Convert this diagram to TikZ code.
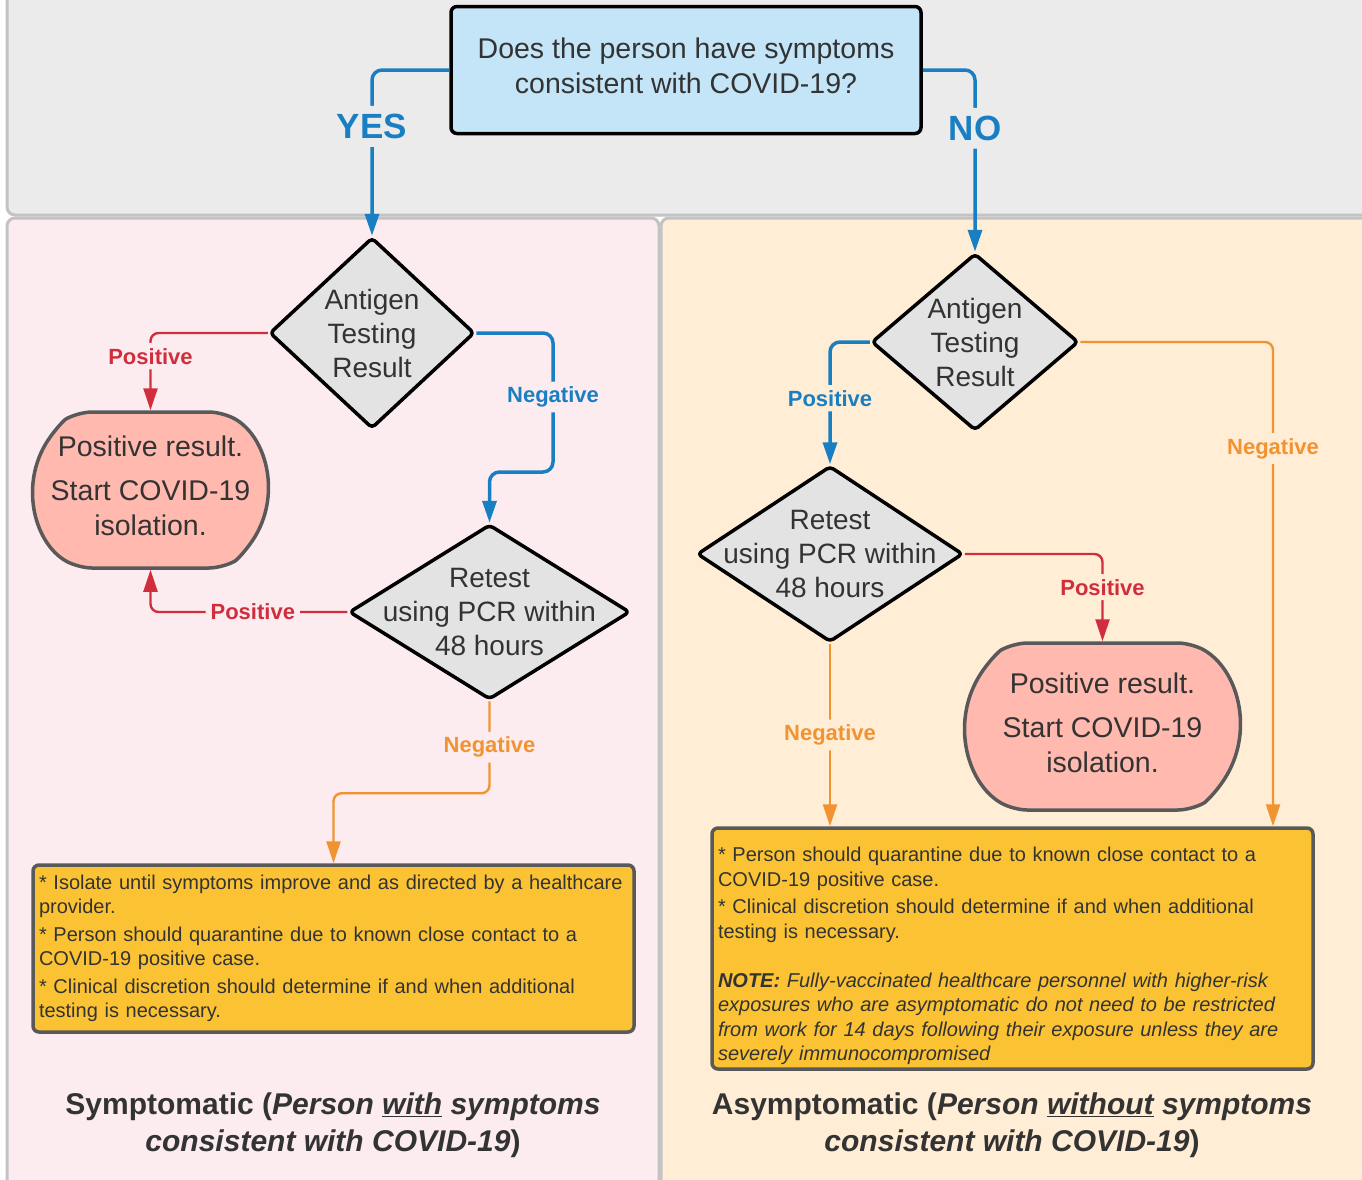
\documentclass[tikz,border=0pt]{standalone}
\usepackage{fontspec}
\setmainfont{Liberation Sans}
\usetikzlibrary{shapes, arrows.meta, positioning, calc}

\definecolor{panelgray}{HTML}{EBEBEB}
\definecolor{panelline}{HTML}{C3C3C3}
\definecolor{pinkpanel}{HTML}{FCECEF}
\definecolor{peachpanel}{HTML}{FFEDD6}
\definecolor{qblue}{HTML}{C3E5F7}
\definecolor{decfill}{HTML}{E3E3E3}
\definecolor{resfill}{HTML}{FFB9AF}
\definecolor{resline}{HTML}{595959}
\definecolor{notefill}{HTML}{FBC334}
\definecolor{cblue}{HTML}{1A7FC2}
\definecolor{cred}{HTML}{D12E3D}
\definecolor{corange}{HTML}{F29331}
\definecolor{txt}{HTML}{333333}

\begin{document}
\begin{tikzpicture}[x=1pt, y=-1pt, >={Triangle[length=22pt, width=14pt]}, line join=round,
  panel/.style={draw=panelline, line width=3pt, rounded corners=8pt},
  question/.style={rectangle, draw=black, line width=3.5pt, rounded corners=6pt, fill=qblue, minimum width=470pt, minimum height=127pt, align=center, font=\fontsize{28.5}{35}\selectfont, text=txt},
  decision/.style={diamond, draw=black, line width=3.5pt, rounded corners=4pt, fill=decfill, inner sep=0pt},
  dtext/.style={align=center, font=\fontsize{28}{34}\selectfont, text=txt},
  result/.style={rounded rectangle, rounded rectangle arc length=120, rounded corners=14pt, draw=resline, line width=3.5pt, fill=resfill, inner sep=0pt},
  rtext/.style={align=center, font=\fontsize{28.5}{35}\selectfont, text=txt},
  note/.style={rectangle, draw=resline, line width=3.5pt, rounded corners=6pt, fill=notefill, minimum width=601pt, text width=589pt, inner sep=6pt, align=left, font=\fontsize{20}{24.5}\selectfont, text=txt},
  lbl/.style={font=\bfseries\fontsize{22}{22}\selectfont, inner sep=5pt},
  yn/.style={font=\bfseries\fontsize{35}{35}\selectfont, text=cblue, inner sep=8pt},
  bluearrow/.style={->, draw=cblue, line width=3.5pt, rounded corners=10pt},
  redarrow/.style={->, draw=cred, line width=2.4pt, rounded corners=8pt},
  orangearrow/.style={->, draw=corange, line width=2.4pt, rounded corners=8pt},
  title/.style={align=center, font=\bfseries\fontsize{30}{37}\selectfont, text=txt}]

  \useasboundingbox (0,0) rectangle (1362,1179);
  \draw[panel, fill=panelgray] (7,-20) rectangle (1390,215);
  \draw[panel, fill=pinkpanel] (7,218) rectangle (659,1200);
  \draw[panel, fill=peachpanel] (661,218) rectangle (1390,1200);

  \node[question] (q) at (686,70) {Does the person have symptoms\\consistent with COVID-19?\\[-27pt]};

  \node[decision, minimum width=205pt, minimum height=191pt] (agL) at (372,333) {};
  \node[dtext] (agLt) at (agL) {Antigen\\Testing\\Result};
  \node[result, minimum width=235pt, minimum height=156pt] (resL) at (150.5,490) {};
  \node[rtext] (resLt) at ([yshift=4pt]resL) {Positive result.\\[9pt]Start COVID-19\\isolation.};
  \node[decision, minimum width=281pt, minimum height=175pt] (retL) at (489.5,612) {};
  \node[dtext] (retLt) at (retL) {Retest\\using PCR within\\48 hours};
  \node[note, minimum height=167pt] (noteL) at (333.5,948.5) {* Isolate until symptoms improve and as directed by a healthcare\\provider.\\[3pt]* Person should quarantine due to known close contact to a\\COVID-19 positive case.\\[3pt]* Clinical discretion should determine if and when additional\\testing is necessary.};
  \node[title] (titleL) at (333,1125) {Symptomatic (\textit{Person \underline{with} symptoms}\\\textit{consistent with COVID-19})};

  \node[decision, minimum width=207pt, minimum height=177pt] (agR) at (975,342) {};
  \node[dtext] (agRt) at (agR) {Antigen\\Testing\\Result};
  \node[decision, minimum width=266pt, minimum height=176pt] (retR) at (830,554) {};
  \node[dtext] (retRt) at (retR) {Retest\\using PCR within\\48 hours};
  \node[result, minimum width=275pt, minimum height=167pt] (resR) at (1102.5,726.5) {};
  \node[rtext] (resRt) at ([yshift=4pt]resR) {Positive result.\\[9pt]Start COVID-19\\isolation.};
  \node[note, minimum height=241pt, inner ysep=2pt] (noteR) at (1012.5,948.5) {\mbox{}\\[5pt]* Person should quarantine due to known close contact to a\\COVID-19 positive case.\\[3pt]* Clinical discretion should determine if and when additional\\testing is necessary.\\[24.5pt]\textit{\textbf{NOTE:} Fully-vaccinated healthcare personnel with higher-risk\\exposures who are asymptomatic do not need to be restricted\\from work for 14 days following their exposure unless they are\\severely immunocompromised}};
  \node[title] (titleR) at (1012,1125) {Asymptomatic (\textit{Person \underline{without} symptoms}\\\textit{consistent with COVID-19})};

  \draw[bluearrow] (q.west) -| node[yn, fill=panelgray, pos=0.67] {YES} (agL.north);
  \draw[bluearrow] (q.east) -| node[yn, fill=panelgray, pos=0.66] {NO} (agR.north);

  \draw[redarrow] (agL.west) -| node[lbl, text=cred, fill=pinkpanel, pos=0.65] {Positive} (resL.north);
  \draw[bluearrow] (agL.east) -| node[lbl, text=cblue, fill=pinkpanel, pos=0.73] {Negative} (553,472) -| (retL.north);
  \draw[redarrow] (retL.west) -| node[lbl, text=cred, fill=pinkpanel, pos=0.24] {Positive} (resL.south);
  \draw[orangearrow] (retL.south) -- node[lbl, text=corange, fill=pinkpanel] {Negative} ++(0,92) -| (noteL.north);

  \draw[bluearrow] (agR.west) -| node[lbl, text=cblue, fill=peachpanel, pos=0.73] {Positive} (retR.north);
  \draw[orangearrow] (agR.east) -| node[lbl, text=corange, fill=peachpanel, pos=0.61] {Negative} ([xshift=260.5pt]noteR.north);
  \draw[redarrow] (retR.east) -| node[lbl, text=cred, fill=peachpanel, pos=0.69] {Positive} (resR.north);
  \draw[orangearrow] (retR.south) -- node[lbl, text=corange, fill=peachpanel] {Negative} (retR.south |- noteR.north);
\end{tikzpicture}
\end{document}
